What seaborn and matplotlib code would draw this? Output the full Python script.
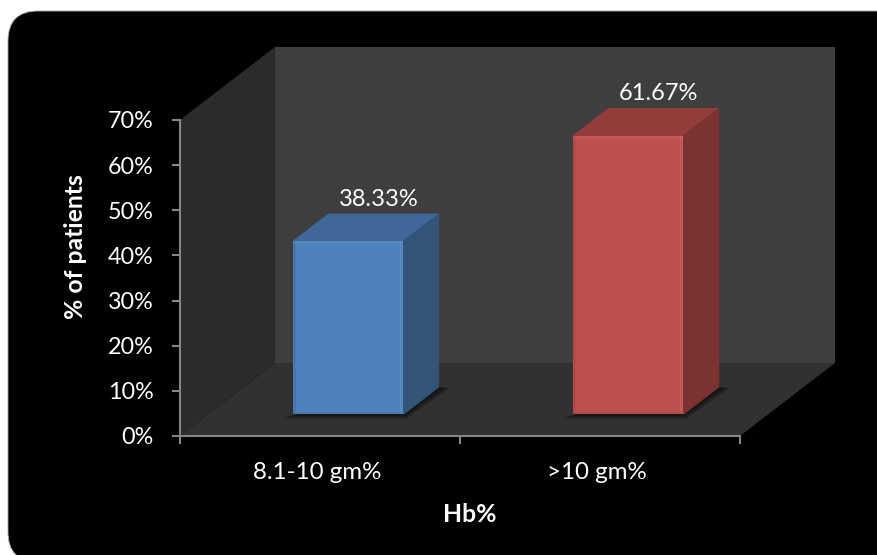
import matplotlib
matplotlib.use("Agg")
import matplotlib.pyplot as plt
from matplotlib.patches import FancyBboxPatch, Polygon, Rectangle
from matplotlib.transforms import IdentityTransform
import pandas as pd
import seaborn as sns

# Chart values
categories = ["8.1-10 gm%", ">10 gm%"]
percentages = [38.33, 61.67]
y_ticks = [0, 10, 20, 30, 40, 50, 60, 70]
x_title = "Hb%"
y_title = "% of patients"

# Face colours: front, top, side
front_colors = ["#4f81bd", "#c0504d"]
top_colors = ["#3f6797", "#933d3b"]
side_colors = ["#335479", "#7b3230"]

# Depth of the box in data units, and where the bars sit inside it
DX, DY = 0.339, 16.17
BAR_FRONT, BAR_BACK = 0.30, 0.67
BAR_WIDTH = 0.393
PX_X, PX_Y = 1 / 280, 1 / 4.514  # one pixel in data units

sns.set_theme(style="white")
plt.rcParams["font.family"] = ["Lato", "DejaVu Sans"]

W, H = 878, 555
fig = plt.figure(figsize=(W / 100, H / 100), dpi=100, facecolor="white")
R = 30
fig.patches.append(FancyBboxPatch(
    (8 + R, -7 + R), 900 - 2 * R, H + 7 - 11 - 2 * R,
    boxstyle=f"round,pad={R},rounding_size={R}",
    fc="black", ec="#a8a8a8", lw=0.6, transform=IdentityTransform(), figure=fig, zorder=-1))

ax = fig.add_axes([180 / W, 1 - 436 / H, 560 / W, 316 / H])
ax.patch.set_alpha(0)

data = pd.DataFrame({"group": categories, "value": percentages})
sns.barplot(data=data, x="group", y="value", hue="group", palette=front_colors,
            width=BAR_WIDTH, legend=False, ax=ax, zorder=4, saturation=1)
bars = list(ax.patches)

ax.set_xlim(-0.5, 1.5)
ax.set_ylim(0, 70)


def pt(x, y, d=0.0):
    """Project a point at depth fraction d into the axes' data space."""
    return (x + DX * d, y + DY * d)


def face(points, color, z, **kw):
    ax.add_patch(Polygon(points, closed=True, fc=color, clip_on=False, zorder=z, **kw))


# Walls and floor of the box
face([pt(-.5, 0), pt(-.5, 70), pt(-.5, 70, 1), pt(-.5, 0, 1)], "#2b2b2b", 1, ec="none")
face([pt(-.5, 0, 1), pt(-.5, 70, 1), pt(1.5, 70, 1), pt(1.5, 0, 1)], "#3e3e3e", 1, ec="none")
face([pt(-.5, 0), pt(1.5, 0), pt(1.5, 0, 1), pt(-.5, 0, 1)], "#313131", 1.5, ec="none")

for i, (bar, value) in enumerate(zip(bars, percentages)):
    # Slide the front face forward into the box
    x0 = bar.get_x() + DX * BAR_FRONT
    x1 = x0 + bar.get_width()
    base = DY * BAR_FRONT
    bar.set_x(x0)
    bar.set_y(base)
    bar.set_linewidth(0)

    d = BAR_BACK - BAR_FRONT
    dx, dy = DX * d, DY * d
    top = base + value

    # Soft shadow on the floor
    for k in range(1, 10):
        ex, ey = k * 1.4 * PX_X, k * 0.5 * PX_Y
        face([(x0 - ex, base - ey), (x1 + ex * 0.3, base - ey),
              (x1 + dx + ex, base + dy - ey * 0.2), (x1 + dx - ex, base + dy)],
             "black", 2, ec="none", alpha=0.09)

    # Top and side faces
    face([(x0, top), (x1, top), (x1 + dx, top + dy), (x0 + dx, top + dy)], top_colors[i], 3,
         ec=top_colors[i], lw=0.8, joinstyle="round")
    face([(x1, base), (x1, top), (x1 + dx, top + dy), (x1 + dx, base + dy)], side_colors[i], 3,
         ec=side_colors[i], lw=0.8, joinstyle="round")

    # Bevel along the edges of the front face
    bevels = [
        (x0, base, 3 * PX_X, value, "black", 0.07),
        (x1 - 3 * PX_X, base, 3 * PX_X, value, "white", 0.05),
        (x0, top - 3 * PX_Y, x1 - x0, 3 * PX_Y, "white", 0.05),
        (x0, base, x1 - x0, 2 * PX_Y, "black", 0.06),
    ]
    for bx, by, bw, bh, col, alpha in bevels:
        ax.add_patch(Rectangle((bx, by), bw, bh, fc=col, ec="none", alpha=alpha,
                               zorder=5, clip_on=False))

    # Value label above the bar's top face
    ax.text((x0 + x1) / 2 + dx * 0.85, top + dy + 15 * PX_Y, f"{value:.2f}%",
            ha="center", va="center", color="white", fontsize=17, zorder=6)

# Axes
for name in ("top", "right"):
    ax.spines[name].set_visible(False)
for name in ("left", "bottom"):
    ax.spines[name].set_color("#868686")
    ax.spines[name].set_linewidth(1.5)
    ax.spines[name].set_zorder(6)

ax.set_yticks(y_ticks)
ax.set_yticklabels([f"{t}%" for t in y_ticks])
ax.set_xticks([-0.5, 0.5, 1.5])
ax.set_xticklabels([])
ax.set_xticks([0 - 3 * PX_X, 1 - 3 * PX_X], minor=True)
ax.set_xticklabels(categories, minor=True)
ax.tick_params(axis="y", which="major", left=True, length=6, width=1.5, color="#868686",
               labelcolor="white", labelsize=16.8, pad=13)
ax.tick_params(axis="x", which="major", bottom=True, length=6, width=1.5, color="#868686")
ax.tick_params(axis="x", which="minor", bottom=False, length=0, labelcolor="white",
               labelsize=17.4, pad=19)

ax.set_xlabel(x_title, color="white", fontweight="bold", fontsize=17.8, va="center")
ax.set_ylabel(y_title, color="white", fontweight="bold", fontsize=17.8, va="center")
ax.xaxis.set_label_coords(290 / 560, -79 / 316)
ax.yaxis.set_label_coords(-104 / 560, 189 / 316)

fig.savefig("out.png", dpi=100, facecolor=fig.get_facecolor())
